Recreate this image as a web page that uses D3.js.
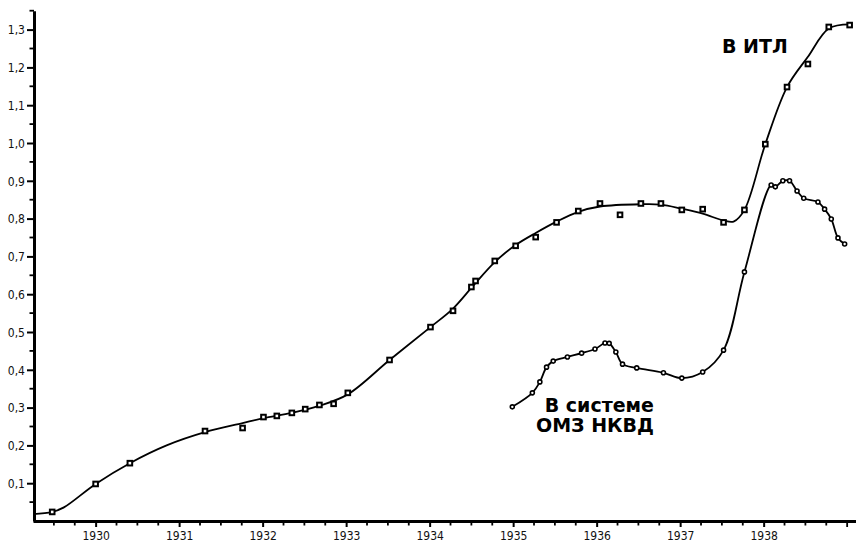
<!DOCTYPE html>
<html>
<head>
<meta charset="utf-8">
<script src="https://cdn.jsdelivr.net/npm/d3@7"></script>
<style>
  body { margin: 0; background: #fff; }
  .tick text { font-family: "Liberation Sans Narrow", "DejaVu Sans Condensed", sans-serif; font-size: 12px; fill: #111; }
  .lbl { font-family: "DejaVu Sans", "Open Sans", sans-serif; font-weight: bold; font-size: 19px; }
</style>
</head>
<body>
<div id="chart"></div>
<script>
// ITL: measured points (squares)
const itlYears = [1929.48, 1930.0, 1930.41, 1931.31, 1931.76, 1932.01, 1932.17, 1932.35, 1932.51, 1932.68,
  1932.85, 1933.02, 1933.52, 1934.01, 1934.28, 1934.50, 1934.55, 1934.78, 1935.03, 1935.27,
  1935.52, 1935.78, 1936.04, 1936.28, 1936.53, 1936.77, 1937.02, 1937.27, 1937.52, 1937.77,
  1938.02, 1938.28, 1938.53, 1938.78, 1939.03];
const itlValues = [0.024, 0.098, 0.153, 0.238, 0.246, 0.275, 0.278, 0.286, 0.296, 0.307,
  0.31, 0.339, 0.426, 0.513, 0.556, 0.619, 0.635, 0.688, 0.728, 0.751,
  0.79, 0.82, 0.84, 0.81, 0.84, 0.84, 0.823, 0.825, 0.79, 0.823,
  0.997, 1.148, 1.209, 1.307, 1.312];

// ITL: smoothed trend curve as drawn
const itlTrendYears = [1929.25, 1929.48, 1929.62, 1930.0, 1930.41, 1930.85, 1931.31, 1931.76, 1932.01, 1932.35, 1932.68,
  1933.02, 1933.52, 1934.01, 1934.28, 1934.52, 1934.78, 1935.03, 1935.27, 1935.52, 1935.78,
  1936.04, 1936.53, 1936.77, 1937.02, 1937.27, 1937.52, 1937.64, 1937.77, 1938.02, 1938.28,
  1938.53, 1938.78, 1939.03];
const itlTrendValues = [0.018, 0.024, 0.036, 0.098, 0.153, 0.2, 0.235, 0.259, 0.272, 0.286, 0.305,
  0.335, 0.426, 0.513, 0.562, 0.622, 0.685, 0.73, 0.762, 0.792, 0.818,
  0.832, 0.838, 0.837, 0.826, 0.813, 0.795, 0.792, 0.823, 0.997, 1.148,
  1.228, 1.303, 1.314];

// OMZ NKVD (circles)
const omzYears = [1934.99, 1935.23, 1935.32, 1935.40, 1935.48, 1935.65, 1935.82, 1935.98, 1936.10, 1936.15,
  1936.23, 1936.31, 1936.48, 1936.80, 1937.02, 1937.27, 1937.52, 1937.77, 1938.09, 1938.14,
  1938.23, 1938.31, 1938.40, 1938.48, 1938.65, 1938.73, 1938.81, 1938.89, 1938.97];
const omzValues = [0.302, 0.339, 0.368, 0.407, 0.423, 0.434, 0.444, 0.455, 0.471, 0.47,
  0.447, 0.415, 0.405, 0.392, 0.378, 0.394, 0.452, 0.659, 0.889, 0.884,
  0.9, 0.9, 0.873, 0.854, 0.844, 0.825, 0.799, 0.749, 0.733];

const yearTicks = [1930, 1931, 1932, 1933, 1934, 1935, 1936, 1937, 1938];
const valueTicks = [0.1, 0.2, 0.3, 0.4, 0.5, 0.6, 0.7, 0.8, 0.9, 1.0, 1.1, 1.2, 1.3];

const width = 856, height = 542;
const svg = d3.select("#chart").append("svg")
  .attr("width", width)
  .attr("height", height);

const x = d3.scaleLinear().domain([1929.25, 1939.1]).range([33, 855.5]);
const y = d3.scaleLinear().domain([0, 1.35]).range([521, 10.7]);

const fmt = d => d3.format(".1f")(d).replace(".", ",");

// minor ticks
const minorX = d3.range(1929.5, 1939.01, 0.25).filter(d => Math.abs(d - Math.round(d)) > 0.01);
svg.append("g").selectAll("line").data(minorX).join("line")
  .attr("x1", d => x(d)).attr("x2", d => x(d))
  .attr("y1", 521).attr("y2", 525.5)
  .attr("stroke", "#000").attr("stroke-width", 1.8);
svg.append("line").attr("x1", x(1939)).attr("x2", x(1939)).attr("y1", 521).attr("y2", 527)
  .attr("stroke", "#000").attr("stroke-width", 1.8);

const minorY = d3.range(0.05, 1.36, 0.1);
svg.append("g").selectAll("line").data(minorY).join("line")
  .attr("x1", 29.5).attr("x2", 34)
  .attr("y1", d => y(d)).attr("y2", d => y(d))
  .attr("stroke", "#000").attr("stroke-width", 1.8);

// axes
const xAxis = svg.append("g")
  .attr("transform", "translate(0,521)")
  .call(d3.axisBottom(x).tickValues(yearTicks).tickFormat(d3.format("d")).tickSize(6).tickSizeOuter(0));
const yAxis = svg.append("g")
  .attr("transform", "translate(34,0)")
  .call(d3.axisLeft(y).tickValues(valueTicks).tickFormat(fmt).tickSize(7).tickSizeOuter(0));

xAxis.select(".domain").attr("stroke-width", 3);
yAxis.select(".domain").attr("stroke-width", 3);
xAxis.selectAll(".tick line").attr("stroke-width", 2);
yAxis.selectAll(".tick line").attr("stroke-width", 2);
xAxis.selectAll(".tick text").attr("dy", "0.9em").attr("y", 8);
yAxis.selectAll(".tick text").attr("x", -9).attr("dy", "0.35em");

// lines
const itlTrend = itlTrendYears.map((d, i) => ({ x: d, y: itlTrendValues[i] }));
const itl = itlYears.map((d, i) => ({ x: d, y: itlValues[i] }));
const omz = omzYears.map((d, i) => ({ x: d, y: omzValues[i] }));

const line = d3.line()
  .x(d => x(d.x))
  .y(d => y(d.y))
  .curve(d3.curveCatmullRom.alpha(0.5));

svg.append("path").datum(itlTrend)
  .attr("d", line).attr("fill", "none")
  .attr("stroke", "#000").attr("stroke-width", 1.8);
svg.append("path").datum(omz)
  .attr("d", line).attr("fill", "none")
  .attr("stroke", "#000").attr("stroke-width", 1.8);

// markers
svg.append("g").selectAll("rect").data(itl).join("rect")
  .attr("x", d => x(d.x) - 2.3).attr("y", d => y(d.y) - 2.3)
  .attr("width", 4.6).attr("height", 4.6)
  .attr("fill", "#fff").attr("stroke", "#000").attr("stroke-width", 2);
svg.append("g").selectAll("circle").data(omz).join("circle")
  .attr("cx", d => x(d.x)).attr("cy", d => y(d.y))
  .attr("r", 2)
  .attr("fill", "#fff").attr("stroke", "#000").attr("stroke-width", 1.6);

// labels
svg.append("text").attr("class", "lbl").attr("x", 722).attr("y", 53).text("В  ИТЛ");
svg.append("text").attr("class", "lbl").attr("x", 654).attr("y", 412)
  .attr("text-anchor", "end").text("В  системе");
svg.append("text").attr("class", "lbl").attr("x", 654).attr("y", 432)
  .attr("text-anchor", "end").text("ОМЗ  НКВД");
</script>
</body>
</html>
